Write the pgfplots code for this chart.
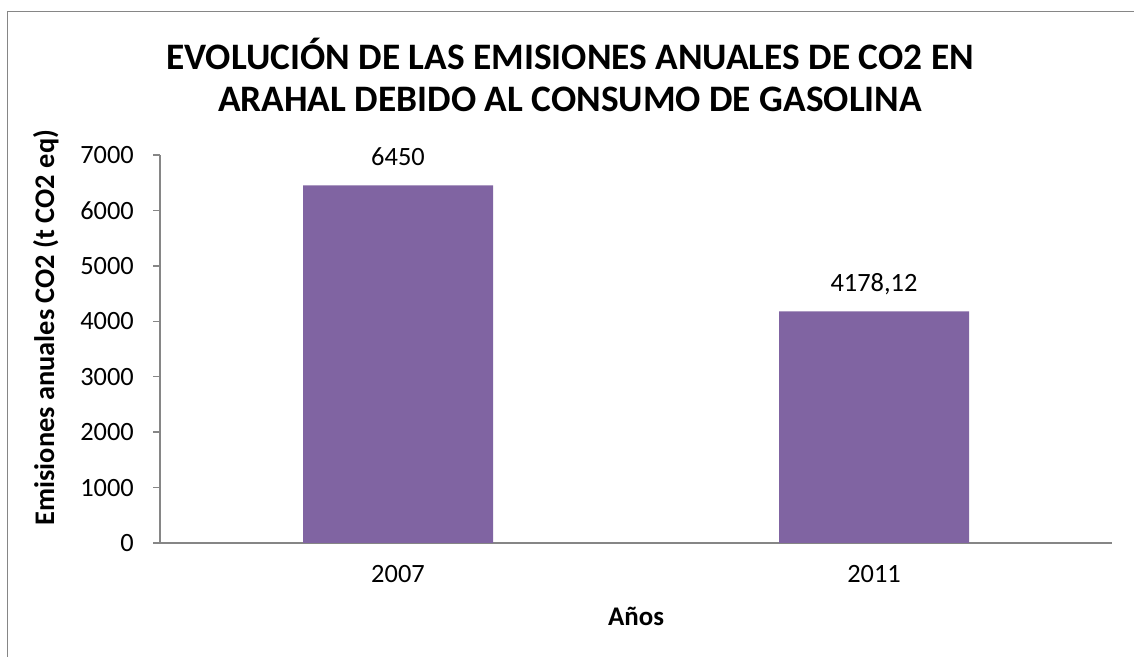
\documentclass[border=0pt]{standalone}
\usepackage{pgfplots}
\pgfplotsset{compat=1.18}
\usepackage{fontspec}
\setmainfont{Carlito}
\definecolor{barpurple}{HTML}{8064A2}
\definecolor{axisgray}{HTML}{868686}
\begin{document}
\begin{tikzpicture}[x=1bp,y=1bp]
\path[use as bounding box] (0,0) rectangle (1134,657);
\draw[axisgray, line width=1.5bp] (7.5,0) -- (7.5,645.5) -- (1134,645.5);
\begin{axis}[
  at={(160bp,114bp)}, anchor=south west,
  scale only axis, width=952bp, height=388bp,
  xmin=-0.5, xmax=1.5, ymin=0, ymax=7000,
  axis x line*=bottom, axis y line*=left,
  axis line style={axisgray, line width=1.3bp, -},
  ybar, bar width=190bp,
  xtick={0,1}, xticklabels={2007,2011},
  xtick style={draw=none},
  ytick={0,1000,2000,3000,4000,5000,6000,7000},
  ytick style={axisgray, line width=1.3bp},
  tick align=outside, major tick length=7bp,
  /pgf/number format/assume math mode=true,
  /pgf/number format/1000 sep={},
  ticklabel style={font=\fontsize{26.5}{31}\selectfont},
  every x tick label/.append style={anchor=base, yshift=-33bp},
  every y tick label/.append style={anchor=east, inner sep=0pt, xshift=-19bp},
  title={EVOLUCIÓN DE LAS EMISIONES ANUALES DE CO2 EN\\ARAHAL DEBIDO AL CONSUMO DE GASOLINA},
  every axis title/.style={font=\bfseries\fontsize{37.5}{42}\selectfont, align=center,
    at={(axis description cs:0.4307,1)}, anchor=south, inner sep=0pt, yshift=43bp},
  xlabel={Años},
  every axis x label/.style={font=\bfseries\fontsize{27}{31}\selectfont,
    at={(axis description cs:0.5,0)}, anchor=base, yshift=-83bp},
  ylabel={Emisiones anuales CO2 (t CO2 eq)},
  every axis y label/.style={font=\bfseries\fontsize{28.5}{33}\selectfont,
    at={(axis description cs:-0.1113,0.555)}, rotate=90, anchor=base},
  nodes near coords,
  point meta=explicit symbolic,
  every node near coord/.append style={font=\fontsize{26.5}{31}\selectfont, anchor=base, yshift=20bp, inner sep=0pt},
]
\addplot[fill=barpurple, draw=none] coordinates {(0,6450) [6450] (1,4178.12) [4178,12]};
\end{axis}
\end{tikzpicture}
\end{document}
